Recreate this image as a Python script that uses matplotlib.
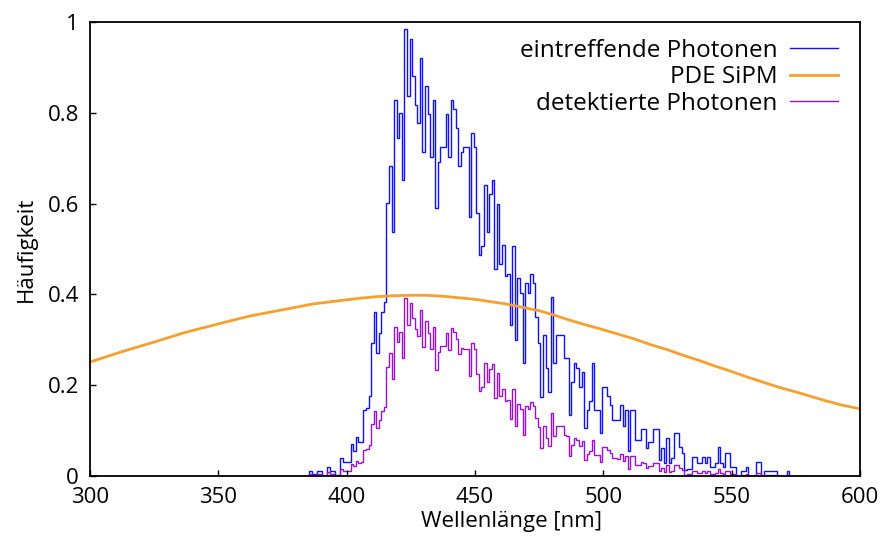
import numpy as np
import matplotlib.pyplot as plt

plt.rcParams['font.family'] = ['Open Sans', 'DejaVu Sans']

# histogram bins, 1 nm wide, centres from 386 nm to 578 nm
first_bin = 386
last_bin = 578

# eintreffende Photonen (normalised counts per bin)
incoming = [
    0.011, 0.004, 0.004, 0.011, 0.011, 0.0, 0.0, 0.02, 0.01, 0.01,        # 386
    0.003, 0.003, 0.04, 0.03, 0.03, 0.03, 0.07, 0.055, 0.085, 0.075,      # 396
    0.075, 0.145, 0.15, 0.176, 0.293, 0.362, 0.27, 0.315, 0.362, 0.384,   # 406
    0.601, 0.683, 0.538, 0.828, 0.745, 0.80, 0.652, 0.984, 0.838, 0.962,  # 416
    0.880, 0.817, 0.777, 0.921, 0.714, 0.859, 0.797, 0.703, 0.828, 0.590, # 426
    0.692, 0.725, 0.725, 0.797, 0.703, 0.828, 0.808, 0.766, 0.683, 0.714, # 436
    0.724, 0.724, 0.570, 0.756, 0.724, 0.58, 0.487, 0.507, 0.641, 0.538,  # 446
    0.621, 0.652, 0.455, 0.60, 0.467, 0.509, 0.44, 0.445, 0.333, 0.507,   # 456
    0.300, 0.435, 0.402, 0.248, 0.424, 0.402, 0.445, 0.424, 0.351, 0.292, # 466
    0.175, 0.311, 0.237, 0.186, 0.394, 0.248, 0.311, 0.311, 0.311, 0.259, # 476
    0.259, 0.134, 0.206, 0.248, 0.237, 0.197, 0.228, 0.105, 0.145, 0.166, # 486
    0.248, 0.145, 0.145, 0.094, 0.197, 0.197, 0.176, 0.156, 0.123, 0.123, # 496
    0.123, 0.156, 0.11, 0.145, 0.054, 0.145, 0.145, 0.08, 0.08, 0.103,    # 506
    0.103, 0.061, 0.075, 0.075, 0.103, 0.103, 0.035, 0.061, 0.029, 0.083, # 516
    0.029, 0.040, 0.094, 0.094, 0.063, 0.051, 0.013, 0.015, 0.015, 0.041, # 526
    0.041, 0.029, 0.029, 0.041, 0.029, 0.041, 0.02, 0.02, 0.029, 0.063,   # 536
    0.029, 0.02, 0.051, 0.051, 0.02, 0.02, 0.0, 0.0, 0.01, 0.01,          # 546
    0.02, 0.0, 0.0, 0.0, 0.031, 0.031, 0.0, 0.01, 0.01, 0.01,             # 556
    0.01, 0.01, 0.0, 0.0, 0.0, 0.0, 0.01, 0.0, 0.0, 0.0,                  # 566
    0.0, 0.0, 0.0,                                                        # 576
]

# detektierte Photonen
detected = [
    0.004, 0.002, 0.002, 0.004, 0.004, 0.0, 0.0, 0.008, 0.004, 0.004,
    0.001, 0.001, 0.016, 0.012, 0.012, 0.012, 0.027, 0.021, 0.033, 0.029,
    0.030, 0.057, 0.059, 0.069, 0.115, 0.143, 0.106, 0.124, 0.143, 0.151,
    0.239, 0.271, 0.214, 0.329, 0.296, 0.318, 0.259, 0.391, 0.333, 0.382,
    0.349, 0.324, 0.308, 0.366, 0.283, 0.341, 0.316, 0.279, 0.329, 0.234,
    0.273, 0.286, 0.286, 0.314, 0.277, 0.326, 0.318, 0.302, 0.269, 0.281,
    0.280, 0.280, 0.221, 0.293, 0.280, 0.224, 0.188, 0.196, 0.248, 0.208,
    0.235, 0.246, 0.172, 0.227, 0.177, 0.192, 0.166, 0.168, 0.126, 0.192,
    0.110, 0.159, 0.147, 0.091, 0.155, 0.147, 0.163, 0.155, 0.128, 0.107,
    0.062, 0.109, 0.083, 0.065, 0.139, 0.087, 0.109, 0.109, 0.109, 0.091,
    0.087, 0.045, 0.069, 0.084, 0.080, 0.066, 0.077, 0.035, 0.049, 0.056,
    0.080, 0.047, 0.047, 0.030, 0.063, 0.063, 0.057, 0.050, 0.040, 0.040,
    0.038, 0.048, 0.034, 0.044, 0.016, 0.044, 0.044, 0.024, 0.024, 0.031,
    0.029, 0.017, 0.021, 0.021, 0.029, 0.029, 0.010, 0.017, 0.008, 0.024,
    0.008, 0.011, 0.025, 0.025, 0.017, 0.014, 0.003, 0.004, 0.004, 0.011,
    0.010, 0.007, 0.007, 0.010, 0.007, 0.010, 0.005, 0.005, 0.007, 0.016,
    0.007, 0.005, 0.012, 0.012, 0.005, 0.005, 0.0, 0.0, 0.002, 0.002,
    0.004, 0.0, 0.0, 0.0, 0.007, 0.007, 0.0, 0.002, 0.002, 0.002,
    0.002, 0.002, 0.0, 0.0, 0.0, 0.0, 0.002, 0.0, 0.0, 0.0,
    0.0, 0.0, 0.0,
]

# PDE SiPM curve
pde_wl = [300, 312, 325, 337, 350, 362, 375, 387, 400, 406, 412, 418, 425,
          431, 437, 443, 450, 456, 462, 468, 475, 481, 487, 493, 500, 506,
          512, 518, 525, 531, 537, 543, 550, 556, 562, 568, 575, 581, 587,
          593, 600]
pde_val = [0.251, 0.273, 0.295, 0.316, 0.335, 0.352, 0.366, 0.379, 0.388,
           0.392, 0.395, 0.397, 0.398, 0.398, 0.396, 0.393, 0.389, 0.384,
           0.379, 0.372, 0.364, 0.354, 0.343, 0.333, 0.322, 0.312, 0.302,
           0.290, 0.278, 0.266, 0.255, 0.243, 0.230, 0.218, 0.207, 0.196,
           0.185, 0.175, 0.165, 0.156, 0.148]

x_ticks = [300, 350, 400, 450, 500, 550, 600]
y_ticks = [0, 0.2, 0.4, 0.6, 0.8, 1]
y_ticklabels = ['0', '0.2', '0.4', '0.6', '0.8', '1']

edges = np.arange(first_bin - 0.5, last_bin + 1.5, 1.0)

fig, ax = plt.subplots(figsize=(8.86, 5.36), dpi=100)
fig.subplots_adjust(left=0.1016, right=0.9707, top=0.959, bottom=0.112)

ax.stairs(incoming, edges, baseline=0, color='#1010ff', lw=1.0,
          label='eintreffende Photonen')
ax.plot(pde_wl, pde_val, color='#f7a030', lw=2.0, label='PDE SiPM')
ax.stairs(detected, edges, baseline=0, color='#9a10d8', lw=1.0,
          label='detektierte Photonen')

ax.set_xlim(300, 600)
ax.set_ylim(0, 1)
ax.set_xticks(x_ticks)
ax.set_yticks(y_ticks)
ax.set_yticklabels(y_ticklabels)
ax.tick_params(direction='in', length=4, width=1, labelsize=16, pad=8)
for s in ax.spines.values():
    s.set_linewidth(1.3)

ax.set_xlabel('Wellenlänge [nm]', fontsize=16, labelpad=0)
ax.xaxis.set_label_coords(0.548, -0.078)
ax.set_ylabel('Häufigkeit', fontsize=16, labelpad=8)

leg = ax.legend(loc='upper right', frameon=False, markerfirst=False,
                fontsize=17.5, handlelength=1.98, handletextpad=0.5,
                labelspacing=0.1, borderaxespad=0.2,
                bbox_to_anchor=(0.99, 0.995))
for t in leg.get_texts():
    t.set_ha('right')

plt.savefig('out.png', dpi=100)
